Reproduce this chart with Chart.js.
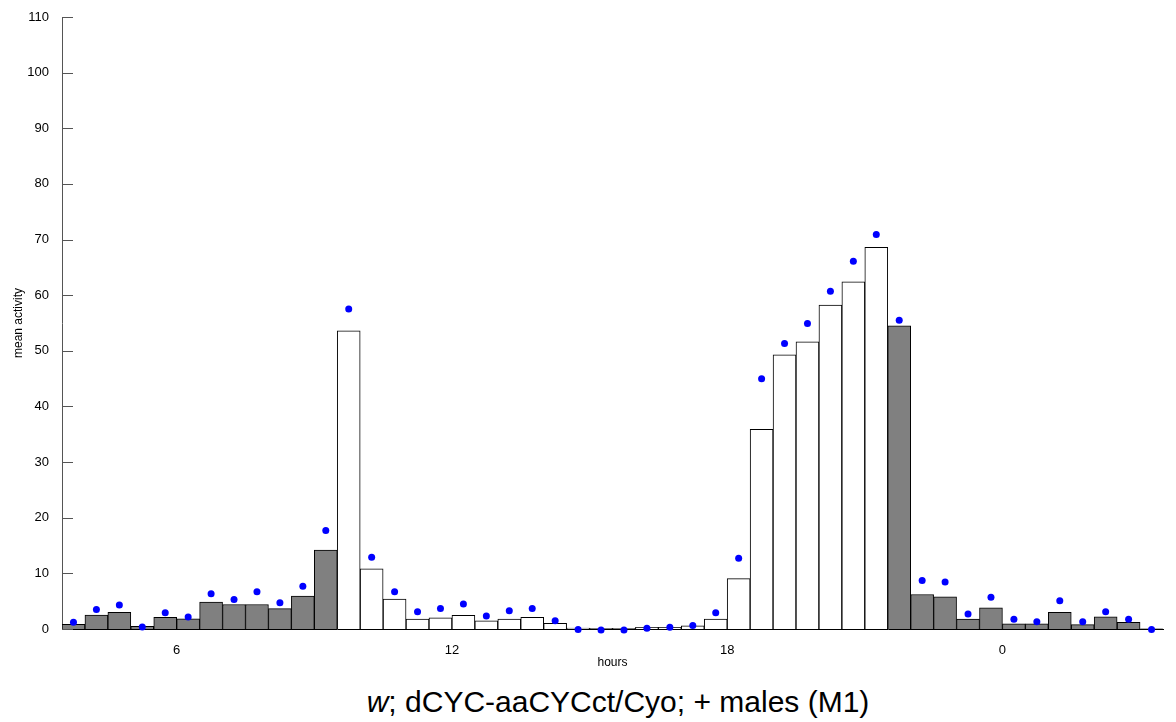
<!DOCTYPE html>
<html>
<head>
<meta charset="utf-8">
<script src="https://cdn.jsdelivr.net/npm/chart.js@4.4.1/dist/chart.umd.min.js"></script>
<style>
  body { margin: 0; background: #fff; }
  #wrap { position: relative; width: 1176px; height: 722px; }
  #chart { position: absolute; left: 0; top: 0; }
  #caption {
    position: absolute; left: 60px; top: 685px; width: 1116px;
    text-align: center; font: 30px "Liberation Sans", Arial, sans-serif;
    line-height: 34px; color: #000;
  }
</style>
</head>
<body>
<div id="wrap">
  <canvas id="chart" width="1176" height="676"></canvas>
  <div id="caption"><i>w</i>; dCYC-aaCYCct/Cyo; + males (M1)</div>
</div>
<script>
// half-hour bins, centre of each bin in hours (24+ = next day)
var binHours = [3.75, 4.25, 4.75, 5.25, 5.75, 6.25, 6.75, 7.25, 7.75, 8.25, 8.75, 9.25,
                9.75, 10.25, 10.75, 11.25, 11.75, 12.25, 12.75, 13.25, 13.75, 14.25, 14.75, 15.25,
                15.75, 16.25, 16.75, 17.25, 17.75, 18.25, 18.75, 19.25, 19.75, 20.25, 20.75, 21.25,
                21.75, 22.25, 22.75, 23.25, 23.75, 24.25, 24.75, 25.25, 25.75, 26.25, 26.75, 27.25];

// bar heights (mean activity)
var meanActivity = [0.85, 2.5, 3.0, 0.5, 2.1, 1.85, 4.85, 4.4, 4.4, 3.65, 5.9, 14.2,
                    53.6, 10.8, 5.4, 1.8, 2.0, 2.45, 1.45, 1.8, 2.1, 1.0, 0.15, 0.1,
                    0.1, 0.3, 0.3, 0.55, 1.8, 9.05, 35.9, 49.3, 51.6, 58.2, 62.4, 68.6,
                    54.5, 6.2, 5.8, 1.8, 3.8, 0.95, 0.95, 3.0, 0.8, 2.2, 1.2, 0.05];

// blue dots
var dotActivity = [1.2, 3.5, 4.3, 0.35, 2.9, 2.15, 6.35, 5.3, 6.7, 4.7, 7.7, 17.7,
                   57.5, 12.9, 6.7, 3.1, 3.7, 4.5, 2.35, 3.3, 3.7, 1.5, -0.1, -0.2,
                   -0.2, 0.15, 0.3, 0.65, 2.9, 12.7, 45.0, 51.3, 54.9, 60.7, 66.1, 70.9,
                   55.5, 8.7, 8.45, 2.7, 5.7, 1.75, 1.3, 5.1, 1.3, 3.1, 1.75, -0.1];

var lightsOn = 9.5, lightsOff = 21.5;
var xTicks = [6, 12, 18, 24];
var yTicks = [0, 10, 20, 30, 40, 50, 60, 70, 80, 90, 100, 110];

var barColors = binHours.map(function (h) {
    return (h > lightsOn && h < lightsOff) ? '#ffffff' : '#808080';
});

// short tick marks drawn inward from the y axis
var innerTicks = {
    id: 'innerTicks',
    afterDraw: function (chart) {
        var y = chart.scales.y, ctx = chart.ctx, left = chart.chartArea.left;
        ctx.save();
        ctx.strokeStyle = '#555';
        ctx.lineWidth = 1;
        yTicks.forEach(function (v) {
            var py = Math.round(y.getPixelForValue(v)) + 0.5;
            ctx.beginPath();
            ctx.moveTo(left, py);
            ctx.lineTo(left + 11, py);
            ctx.stroke();
        });
        ctx.restore();
    }
};

var ctx = document.getElementById('chart').getContext('2d');
var chart = new Chart(ctx, {
    type: 'bar',
    data: {
        datasets: [{
            type: 'scatter',
            data: binHours.map(function (h, i) { return { x: h, y: dotActivity[i] }; }),
            backgroundColor: '#0000ff',
            borderWidth: 0,
            pointRadius: 3.5,
            clip: false
        }, {
            type: 'bar',
            data: binHours.map(function (h, i) { return { x: h, y: meanActivity[i] }; }),
            backgroundColor: barColors,
            borderColor: '#000',
            borderWidth: 1,
            barPercentage: 1,
            categoryPercentage: 1
        }]
    },
    options: {
        responsive: false,
        animation: false,
        layout: { padding: { top: 17, right: 13, left: 0, bottom: 0 } },
        plugins: { legend: { display: false }, tooltip: { enabled: false } },
        scales: {
            x: {
                type: 'linear',
                offset: false,
                min: 3.5,
                max: 27.5,
                afterBuildTicks: function (s) { s.ticks = xTicks.map(function (v) { return { value: v }; }); },
                afterFit: function (s) { s.height = 47; },
                grid: { display: false },
                border: { display: true, color: '#000', width: 1 },
                ticks: {
                    padding: 6,
                    color: '#000',
                    font: { family: 'Liberation Sans', size: 13 },
                    callback: function (v) { return v % 24; }
                },
                title: {
                    display: true, text: 'hours', color: '#000',
                    font: { family: 'Liberation Sans', size: 12 },
                    padding: { top: 0, bottom: 6 }
                }
            },
            y: {
                min: 0,
                max: 110,
                afterBuildTicks: function (s) { s.ticks = yTicks.map(function (v) { return { value: v }; }); },
                afterFit: function (s) { s.width = 62; },
                grid: { display: false },
                border: { display: true, color: '#555', width: 1 },
                ticks: {
                    padding: 5,
                    color: '#000',
                    font: { family: 'Liberation Sans', size: 13 }
                },
                title: {
                    display: true, text: 'mean activity', color: '#000',
                    font: { family: 'Liberation Sans', size: 12 },
                    padding: { top: 11, bottom: 0 }
                }
            }
        }
    },
    plugins: [innerTicks]
});
</script>
</body>
</html>
